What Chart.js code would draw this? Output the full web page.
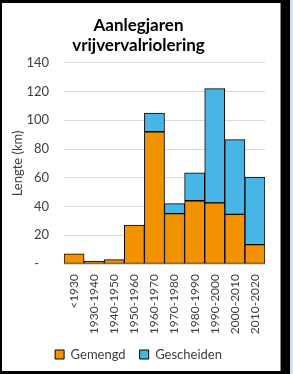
<!DOCTYPE html>
<html>
<head>
<meta charset="utf-8">
<script src="https://cdn.jsdelivr.net/npm/chart.js@4.4.1/dist/chart.umd.min.js"></script>
<style>
  html, body { margin: 0; padding: 0; }
  body { width: 293px; height: 374px; background: #000; position: relative; overflow: hidden; }
  #edge { position: absolute; left: 290px; top: 0; width: 3px; height: 374px; background: #cfe3f2; }
  #panel { position: absolute; left: 2px; top: 3px; width: 278px; height: 368px; background: #fff; border-right: 1px solid #888; }
  #chart { display: block; }
</style>
</head>
<body>
<div id="edge"></div>
<div id="panel"><canvas id="chart" width="278" height="368"></canvas></div>
<script>
// aanlegperiodes
const periods = ["<1930", "1930-1940", "1940-1950", "1950-1960", "1960-1970",
  "1970-1980", "1980-1990", "1990-2000", "2000-2010", "2010-2020"];
// lengte in km
const gemengd = [7, 2, 3, 27, 92, 35, 44, 42.5, 34.5, 13.5];
const gescheiden = [0, 0, 0, 0, 13, 7, 19.5, 79.5, 52, 47];
const yTicks = [0, 20, 40, 60, 80, 100, 120, 140];

const font = "Lato, 'Open Sans', sans-serif";

new Chart(document.getElementById("chart"), {
  type: "bar",
  data: {
    labels: periods,
    datasets: [
      {
        label: "Gemengd",
        data: gemengd,
        backgroundColor: "#f39200",
        borderColor: "#000",
        borderWidth: 1,
        borderSkipped: false,
      },
      {
        label: "Gescheiden",
        data: gescheiden,
        backgroundColor: "#47b6e6",
        borderColor: "#000",
        borderWidth: 1,
        borderSkipped: false,
      },
    ],
  },
  options: {
    responsive: false,
    animation: false,
    layout: { padding: { left: 8, right: 13, top: 0, bottom: 0 } },
    datasets: { bar: { barPercentage: 1, categoryPercentage: 1 } },
    scales: {
      x: {
        stacked: true,
        grid: { display: false, drawTicks: false },
        border: { color: "#d9d9d9" },
        afterFit: (s) => { s.height = 70; },
        ticks: {
          color: "#404040",
          font: { family: font, size: 12 },
          minRotation: 90,
          maxRotation: 90,
          autoSkip: false,
          padding: 10,
        },
      },
      y: {
        stacked: true,
        min: 0,
        max: 140,
        afterBuildTicks: (axis) => {
          axis.ticks = yTicks.map((v) => ({ value: v }));
        },
        afterFit: (s) => { s.width = 54; },
        grid: { color: "#d9d9d9", drawTicks: false },
        border: { display: false },
        ticks: {
          color: "#404040",
          font: { family: font, size: 13 },
          padding: 15,
          callback: (v) => (v === 0 ? "-   " : v),
        },
        title: {
          display: true,
          text: "Lengte (km)",
          color: "#404040",
          font: { family: font, size: 13 },
          padding: 0,
        },
      },
    },
    plugins: {
      title: {
        display: true,
        text: ["Aanlegjaren", "vrijvervalriolering"],
        color: "#000",
        font: { family: font, size: 17, weight: "bold" },
        padding: { top: 12, bottom: 7 },
      },
      legend: {
        position: "bottom",
        labels: {
          color: "#404040",
          font: { family: font, size: 13 },
          boxWidth: 9,
          boxHeight: 9,
          padding: 14,
        },
      },
      tooltip: { enabled: false },
    },
  },
});
</script>
</body>
</html>
